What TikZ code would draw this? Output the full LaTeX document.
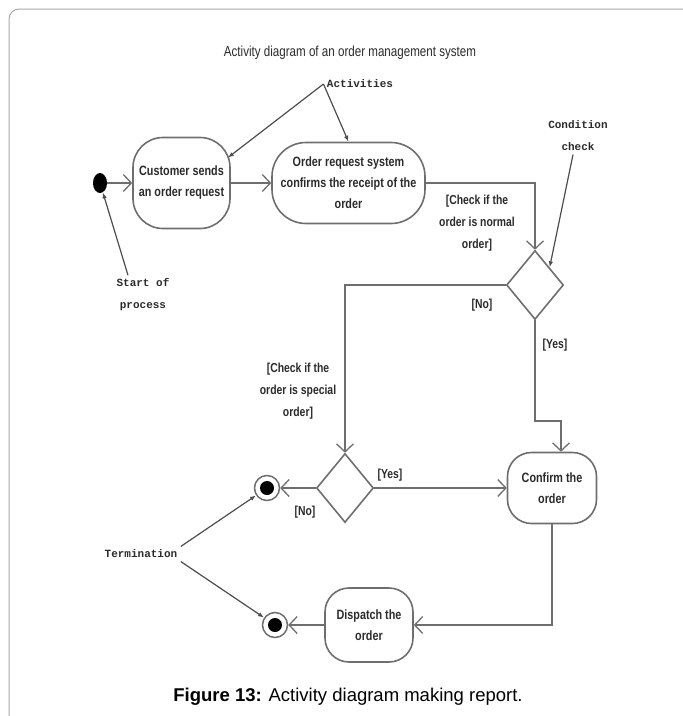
\documentclass[tikz,border=0pt]{standalone}
\usepackage{fontspec}
\setmainfont{Liberation Sans}
\newfontfamily\narrowfont[FakeStretch=0.8]{Liberation Sans}
\setmonofont{Liberation Mono}
\usetikzlibrary{arrows.meta, shapes.geometric}
\definecolor{linegray}{HTML}{6E6E6E}
\definecolor{framegray}{HTML}{A8A8A8}
\definecolor{textgray}{HTML}{2B2B2B}

\begin{document}
\begin{tikzpicture}[x=1pt, y=-1pt,
  activity/.style={draw=linegray, line width=1.6pt, rounded corners=24pt, align=center,
    font=\narrowfont\bfseries\fontsize{13.5}{21}\selectfont, text=textgray, inner sep=0pt},
  decision/.style={draw=linegray, line width=1.6pt, diamond, minimum width=57pt,
    minimum height=69pt, inner sep=0pt},
  startnode/.style={ellipse, fill=black, minimum width=14pt, minimum height=20pt, inner sep=0pt},
  endnode/.style={circle, draw=linegray, line width=1.5pt, minimum size=25pt, inner sep=0pt,
    path picture={\fill[black] (path picture bounding box.center) circle (7pt);}},
  guard/.style={font=\narrowfont\bfseries\fontsize{13}{22}\selectfont, text=textgray, align=center},
  note/.style={font=\ttfamily\bfseries\fontsize{11}{22}\selectfont, text=textgray, align=center},
  flow/.style={draw=linegray, line width=1.6pt, -{Straight Barb[length=8pt, width=17pt, line width=1.3pt]}},
  pointer/.style={draw=linegray!70!black, line width=1.2pt, -{Latex[length=6pt, width=4.5pt]}}]

  \useasboundingbox (0,0) rectangle (683,716);
  \draw[framegray, line width=1pt, rounded corners=10pt] (9,716) -- (9,9) -- (683,9);

  \node[font=\narrowfont\fontsize{14.5}{16}\selectfont, text=textgray] (title) at (350,53)
    {Activity diagram of an order management system};

  % activities and decisions
  \node[startnode] (start) at (100,183) {};
  \node[activity, minimum width=97pt, minimum height=91pt, rounded corners=30pt] (customer) at (181.5,183)
    {Customer sends\\an order request};
  \node[activity, minimum width=153pt, minimum height=81pt, rounded corners=34pt] (receipt) at (348.5,183)
    {Order request system\\confirms the receipt of the\\order};
  \node[decision] (normal) at (535,285) {};
  \node[decision] (special) at (345,488) {};
  \node[activity, minimum width=89pt, minimum height=71pt] (confirm) at (552,488) {Confirm the\\order};
  \node[activity, minimum width=88pt, minimum height=74pt] (dispatch) at (369,625) {Dispatch the\\order};
  \node[endnode] (endone) at (267,488) {};
  \node[endnode] (endtwo) at (275,625) {};

  % guards
  \node[guard] (normalguard) at (477,223) {[Check if the\\order is normal\\order]};
  \node[guard] (normalno) at (482,305) {[No]};
  \node[guard] (normalyes) at (555,345) {[Yes]};
  \node[guard] (specialguard) at (298,391) {[Check if the\\order is special\\order]};
  \node[guard] (specialyes) at (390,475) {[Yes]};
  \node[guard] (specialno) at (305,512) {[No]};

  % notes
  \node[note] (activities) at (360,84) {Activities};
  \node[note] (condition) at (578,136) {Condition\\check};
  \node[note] (startnote) at (143,295) {Start of\\process};
  \node[note] (termination) at (141,554) {Termination};

  % flow
  \draw[flow] (start) -- (customer);
  \draw[flow] (customer) -- (receipt);
  \draw[flow] (receipt.east) -| (normal.north);
  \draw[flow] (normal.west) -| (special.north);
  \coordinate (yesbend) at (561,421);
  \draw[flow] (normal.south) |- (yesbend) -- (yesbend |- confirm.north);
  \draw[flow] (special.east) -- (confirm.west);
  \draw[flow] (special.west) -- (endone);
  \draw[flow] (confirm.south) |- (dispatch.east);
  \draw[flow] (dispatch.west) -- (endtwo);

  % pointers from the notes
  \draw[pointer] (activities.west) -- ([xshift=-3pt, yshift=-21pt]customer.north east);
  \draw[pointer] (activities.west) -- (receipt.north);
  \draw[pointer] ([xshift=-15pt]startnote.north) -- (start);
  \draw[pointer] ([xshift=-5pt]condition.south) -- (normal.north east);
  \draw[pointer] (termination.north east) -- (endone);
  \draw[pointer] (termination.south east) -- (endtwo);

  \node[font=\fontsize{18.5}{22}\selectfont] (caption) at (348,697)
    {\textbf{Figure 13:} Activity diagram making report.};
\end{tikzpicture}
\end{document}
